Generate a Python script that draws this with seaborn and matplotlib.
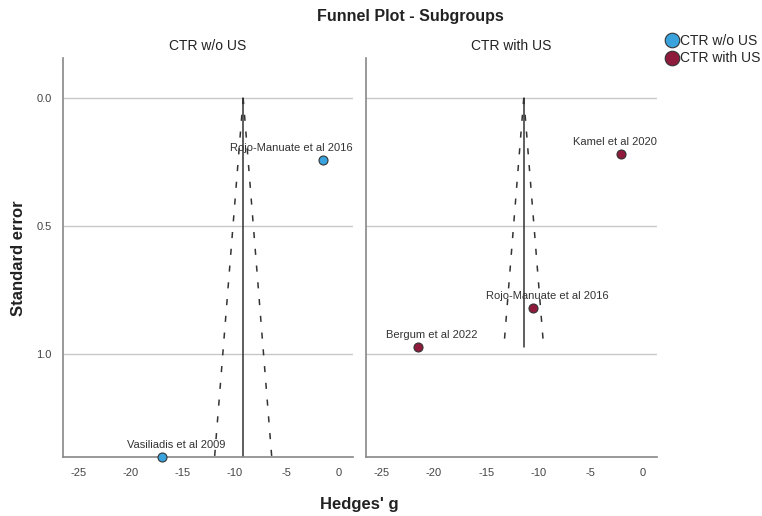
import matplotlib
matplotlib.use("Agg")
import matplotlib.pyplot as plt
import numpy as np
import pandas as pd
import seaborn as sns

# study-level data
groups = ["CTR w/o US", "CTR w/o US", "CTR with US", "CTR with US", "CTR with US"]
studies = ["Rojo-Manuate et al 2016", "Vasiliadis et al 2009",
           "Kamel et al 2020", "Rojo-Manuate et al 2016", "Bergum et al 2022"]
hedges_g = [-1.5, -17.0, -2.1, -10.5, -21.5]
std_err = [0.24, 1.40, 0.22, 0.82, 0.97]

# pooled estimate per subgroup
subgroups = ["CTR w/o US", "CTR with US"]
pooled_g = [-9.2, -11.4]

colors = {"CTR w/o US": "#3aa3de", "CTR with US": "#8e1a3c"}
x_ticks = [-25, -20, -15, -10, -5, 0]
y_ticks = [0.0, 0.5, 1.0]

df = pd.DataFrame({"group": groups, "study": studies, "g": hedges_g, "se": std_err})

sns.set_style("white")
plt.rcParams["font.family"] = ["Liberation Sans", "DejaVu Sans"]

fig = plt.figure(figsize=(7.62, 5.16), dpi=100)
ax1 = fig.add_axes([0.0827, 0.1143, 0.3806, 0.7733])
ax2 = fig.add_axes([0.4803, 0.1143, 0.3819, 0.7733], sharey=ax1)

labels = []
for ax, grp, mean in zip([ax1, ax2], subgroups, pooled_g):
    sub = df[df["group"] == grp]
    max_se = sub["se"].max()

    for y in y_ticks:
        ax.axhline(y, color="#c8c8c8", lw=1.0, zorder=0)

    # funnel (95% pseudo-confidence limits)
    se_line = np.linspace(0, max_se, 50)
    ax.plot(mean - 1.96 * se_line, se_line, color="#333333", lw=1.1,
            linestyle=(0, (4, 7)), zorder=2)
    ax.plot(mean + 1.96 * se_line, se_line, color="#333333", lw=1.1,
            linestyle=(0, (4, 7)), zorder=2)
    ax.plot([mean, mean], [0, max_se], color="#333333", lw=1.1, zorder=2)

    sns.scatterplot(data=sub, x="g", y="se", ax=ax, color=colors[grp],
                    edgecolor="#333333", linewidth=0.8, s=42, zorder=4,
                    clip_on=False, legend=False)
    for row in sub.itertuples():
        t = ax.annotate(row.study, (row.g, row.se), xytext=(10, 5),
                        textcoords="offset points", ha="center", va="bottom",
                        fontsize=8, color="#333333", zorder=3)
        labels.append((ax, t))

    ax.set_xlim(-26.5, 1.35)
    ax.set_xticks(x_ticks)
    ax.set_xticklabels([str(t) for t in x_ticks], fontsize=8, color="#444444")
    ax.set_title(grp, fontsize=10, color="#222222", pad=6)
    ax.set_xlabel("")
    ax.set_ylabel("")
    for s in ["top", "right"]:
        ax.spines[s].set_visible(False)
    for s in ["left", "bottom"]:
        ax.spines[s].set_color("#888888")
        ax.spines[s].set_linewidth(1.2)
    ax.tick_params(length=0, pad=8)

ax1.set_ylim(1.40, -0.156)
ax1.set_yticks(y_ticks)
ax1.set_yticklabels(["0.0", "0.5", "1.0"], fontsize=8, color="#444444")
ax2.tick_params(labelleft=False)

# keep labels inside their panel (shift left when they overflow)
fig.canvas.draw()
renderer = fig.canvas.get_renderer()
for ax, t in labels:
    bb = t.get_window_extent(renderer)
    right = ax.get_window_extent(renderer).x1
    if bb.x1 > right:
        dx = (bb.x1 - right) * 72 / fig.dpi
        x0, y0 = t.xyann
        t.xyann = (x0 - dx, y0)

fig.text(0.538, 0.968, "Funnel Plot - Subgroups", ha="center", va="center",
         fontsize=11.5, fontweight="bold", color="#222222")
fig.text(0.472, 0.022, "Hedges' g", ha="center", va="center",
         fontsize=12, fontweight="bold", color="#222222")
fig.text(0.024, 0.5, "Standard error", ha="center", va="center", rotation=90,
         fontsize=12, fontweight="bold", color="#222222")

handles = [plt.Line2D([], [], marker="o", linestyle="", markersize=10.5,
                      markerfacecolor=colors[g], markeredgecolor="#333333",
                      markeredgewidth=0.8) for g in subgroups]
fig.legend(handles, subgroups, loc="upper left", bbox_to_anchor=(0.866, 0.945),
           frameon=False, fontsize=10, handletextpad=0.05, labelspacing=0.25,
           borderaxespad=0, handlelength=1.0)

fig.savefig("out.png", dpi=100)
